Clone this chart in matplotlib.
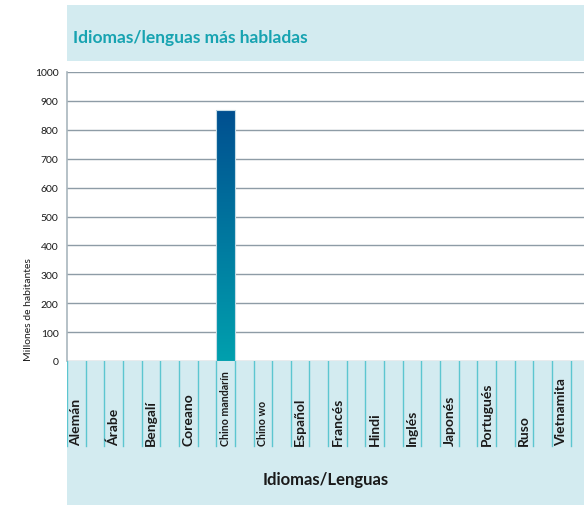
import numpy as np
import matplotlib.pyplot as plt
from matplotlib.patches import Rectangle
from matplotlib.colors import LinearSegmentedColormap

plt.rcParams['font.family'] = ['Lato', 'DejaVu Sans']

idiomas = ['Alemán', 'Árabe', 'Bengalí', 'Coreano', 'Chino mandarín', 'Chino wo',
           'Español', 'Francés', 'Hindi', 'Inglés', 'Japonés', 'Portugués',
           'Ruso', 'Vietnamita']
millones = [0, 0, 0, 0, 870, 0, 0, 0, 0, 0, 0, 0, 0, 0]
yticks = list(range(0, 1001, 100))

W, H = 584, 506
light = '#d3ebf0'
teal_line = '#5cc6d0'
grid_c = '#8e9ca6'

fig = plt.figure(figsize=(W / 100, H / 100), dpi=100)

# title box
fig.patches.append(Rectangle((67 / W, 1 - 62 / H), 1 - 67 / W, 56 / H,
                             transform=fig.transFigure, facecolor=light,
                             edgecolor='none', zorder=0))
fig.text(73 / W, 1 - 38 / H, 'Idiomas/lenguas más habladas', color='#17a3b1',
         fontsize=12.5, fontweight='bold', va='center', ha='left')

# main plot
ax = fig.add_axes([67 / W, 1 - 362 / H, 1 - 67 / W, (362 - 73) / H])
pos = np.arange(len(idiomas)) * 2
bars = ax.bar(pos, millones, width=1, align='edge', color='none', zorder=3)
ax.set_yticks(yticks)
ax.set_yticklabels([str(t) for t in yticks], fontsize=7.5)
ax.tick_params(axis='y', length=0, pad=6, colors='#1a1a1a')
ax.set_xticks([])
ax.grid(axis='y', color=grid_c, linewidth=1)
ax.set_axisbelow(True)
for s in ['top', 'right', 'bottom']:
    ax.spines[s].set_visible(False)
ax.spines['left'].set_color('#a9b6be')
ax.spines['left'].set_linewidth(1.2)
ax.set_ylabel('Millones de habitantes', fontsize=7.5, color='#1a1a1a')
ax.yaxis.set_label_coords(-0.066, 0.18)

# gradient bars
cmap = LinearSegmentedColormap.from_list('g', ['#00a0ae', '#004f90'])
grad = np.linspace(0, 1, 256).reshape(-1, 1)
for b in bars:
    if b.get_height() <= 0:
        continue
    x0, w, h = b.get_x(), b.get_width(), b.get_height()
    im = ax.imshow(grad, cmap=cmap, origin='lower', aspect='auto',
                   extent=(x0, x0 + w, 0, h), zorder=3)
    im.set_clip_path(b)
    ax.add_patch(Rectangle((x0, 0), w, h, facecolor='none',
                           edgecolor='#c5dce6', linewidth=0.8, zorder=4))
ax.set_xlim(0, 27.72)
ax.set_ylim(0, 1000)

# label strip
ax2 = fig.add_axes([67 / W, 0, 1 - 67 / W, (H - 362) / H], sharex=ax)
ax2.set_facecolor(light)
ax2.set_ylim(0, 1)
for s in ax2.spines.values():
    s.set_visible(False)
ax2.tick_params(left=False, bottom=False, labelleft=False, labelbottom=False)
line_bottom = (H - 447) / (H - 362)
for i in range(28):
    ax2.axvline(i, ymin=line_bottom, ymax=1, color=teal_line, linewidth=1)
for p, name in zip(pos, idiomas):
    fs = 7.7 if name.startswith('Chino') else 10
    ax2.text(p + 0.5, line_bottom + 0.01, name, rotation=90, ha='center',
             va='bottom', fontsize=fs, fontweight='bold', color='#1a1a1a')
ax2.text(0.5, (H - 480) / (H - 362), 'Idiomas/Lenguas', transform=ax2.transAxes,
         ha='center', va='center', fontsize=12, fontweight='bold', color='#1a1a1a')

fig.savefig('out.png', dpi=100)
